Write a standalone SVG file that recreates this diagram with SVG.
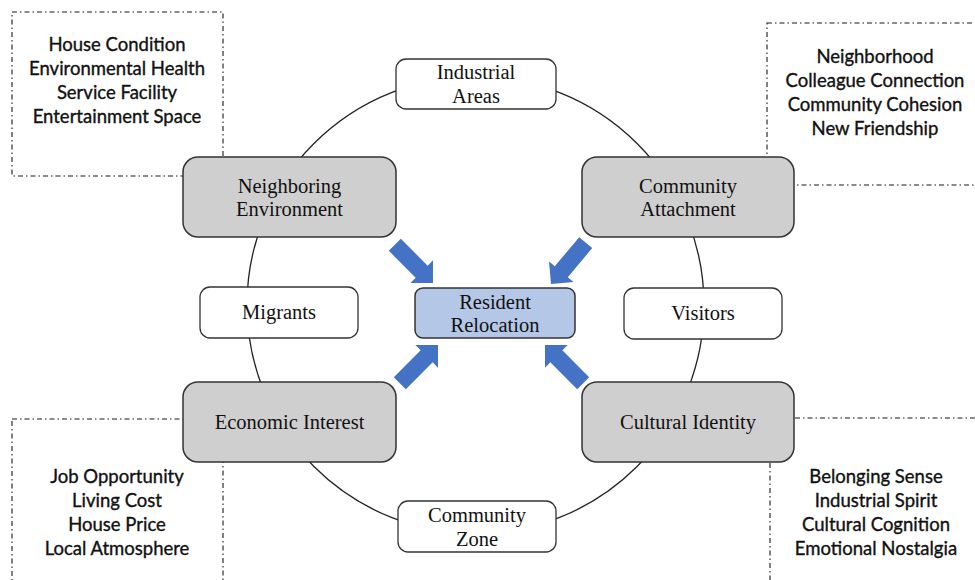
<svg xmlns="http://www.w3.org/2000/svg" width="975" height="580" viewBox="0 0 975 580" xmlns:xlink="http://www.w3.org/1999/xlink">
  <style>
    .frame { fill: none; stroke: #1a1a1a; stroke-width: 1.1; stroke-dasharray: 5 3 1.5 3; }
    .ring { fill: none; stroke: #222; stroke-width: 1.3; }
    .factor { fill: #d0cfcf; stroke: #333; stroke-width: 1.5; }
    .actor { fill: #ffffff; stroke: #333; stroke-width: 1.3; }
    .core { fill: #b4c7e7; stroke: #333; stroke-width: 1.5; }
    .label { font-family: "Liberation Serif", "Times New Roman", serif; font-size: 20.5px; fill: #111; text-anchor: middle; }
    .note { font-family: Lato, "Open Sans", sans-serif; font-size: 18.5px; fill: #111; stroke: #111; stroke-width: 0.35; text-anchor: middle; }
    .push { fill: #4472c4; }
  </style>
  <defs>
    <!-- block arrow with its tip at the origin, pointing along +x -->
    <path id="blockArrow" d="M -54 -8.5 L -16 -8.5 L -16 -16 L 0 0 L -16 16 L -16 8.5 L -54 8.5 Z"/>
  </defs>

  <rect width="975" height="580" fill="#ffffff"/>

  <!-- dash-dot frames holding the indicator lists -->
  <g id="frames">
    <rect class="frame" x="12" y="12" width="211" height="164"/>
    <rect class="frame" x="767" y="23" width="220" height="162"/>
    <rect class="frame" x="12" y="419" width="211" height="180"/>
    <rect class="frame" x="770" y="418" width="220" height="180"/>
  </g>

  <g id="notes-environment">
    <text class="note" x="117" y="51">House Condition</text>
    <text class="note" x="117" y="75">Environmental Health</text>
    <text class="note" x="117" y="99">Service Facility</text>
    <text class="note" x="117" y="123">Entertainment Space</text>
  </g>
  <g id="notes-attachment">
    <text class="note" x="875" y="63">Neighborhood</text>
    <text class="note" x="875" y="87">Colleague Connection</text>
    <text class="note" x="875" y="111">Community Cohesion</text>
    <text class="note" x="875" y="135">New Friendship</text>
  </g>
  <g id="notes-economic">
    <text class="note" x="117" y="483">Job Opportunity</text>
    <text class="note" x="117" y="507">Living Cost</text>
    <text class="note" x="117" y="531">House Price</text>
    <text class="note" x="117" y="555">Local Atmosphere</text>
  </g>
  <g id="notes-cultural">
    <text class="note" x="876" y="483">Belonging Sense</text>
    <text class="note" x="876" y="507">Industrial Spirit</text>
    <text class="note" x="876" y="531">Cultural Cognition</text>
    <text class="note" x="876" y="555">Emotional Nostalgia</text>
  </g>

  <!-- connectors: the ring and the four block arrows -->
  <g id="connectors">
    <circle class="ring" cx="475.5" cy="305" r="228.5"/>
    <use xlink:href="#blockArrow" class="push" transform="translate(433 283) rotate(45)"/>
    <use xlink:href="#blockArrow" class="push" transform="translate(551 284) rotate(130)"/>
    <use xlink:href="#blockArrow" class="push" transform="translate(438 345) rotate(-45)"/>
    <use xlink:href="#blockArrow" class="push" transform="translate(545 345) rotate(-135)"/>
  </g>

  <g id="industrial-areas">
    <rect class="actor" x="396" y="59" width="160" height="50" rx="10"/>
    <text class="label" x="476" y="79">Industrial</text>
    <text class="label" x="476" y="103">Areas</text>
  </g>
  <g id="migrants">
    <rect class="actor" x="200" y="287" width="158" height="51" rx="10"/>
    <text class="label" x="279" y="319">Migrants</text>
  </g>
  <g id="visitors">
    <rect class="actor" x="624" y="288" width="158" height="51" rx="10"/>
    <text class="label" x="703" y="320">Visitors</text>
  </g>
  <g id="community-zone">
    <rect class="actor" x="398" y="501" width="158" height="51" rx="10"/>
    <text class="label" x="477" y="522">Community</text>
    <text class="label" x="477" y="546">Zone</text>
  </g>

  <g id="neighboring-environment">
    <rect class="factor" x="183" y="157" width="213" height="80" rx="15"/>
    <text class="label" x="289.5" y="193">Neighboring</text>
    <text class="label" x="289.5" y="216">Environment</text>
  </g>
  <g id="community-attachment">
    <rect class="factor" x="582" y="157" width="212" height="80" rx="15"/>
    <text class="label" x="688" y="193">Community</text>
    <text class="label" x="688" y="216">Attachment</text>
  </g>
  <g id="economic-interest">
    <rect class="factor" x="183" y="382" width="213" height="80" rx="15"/>
    <text class="label" x="289.5" y="429">Economic Interest</text>
  </g>
  <g id="cultural-identity">
    <rect class="factor" x="582" y="382" width="212" height="80" rx="15"/>
    <text class="label" x="688" y="429">Cultural Identity</text>
  </g>

  <g id="resident-relocation">
    <rect class="core" x="415" y="288" width="160" height="50" rx="8"/>
    <text class="label" x="495" y="309">Resident</text>
    <text class="label" x="495" y="332">Relocation</text>
  </g>
</svg>
